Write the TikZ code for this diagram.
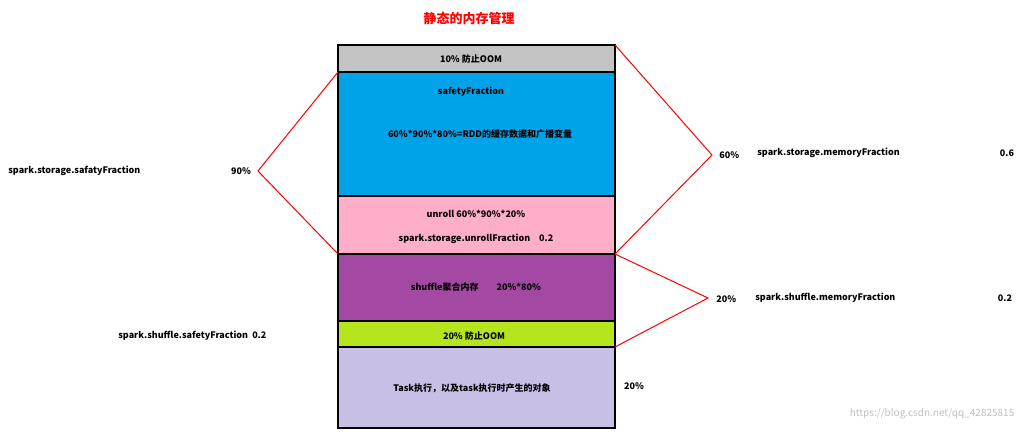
\documentclass[tikz,border=0pt]{standalone}
\usepackage{fontspec}
\setmainfont{Noto Sans CJK SC}
\usepackage{tikz}
\tikzset{every picture/.style={line width=0.75pt}}
\definecolor{oomgray}{RGB}{195,195,195}
\definecolor{safeblue}{RGB}{0,162,232}
\definecolor{unrollpink}{RGB}{255,174,201}
\definecolor{shufpurple}{RGB}{163,73,164}
\definecolor{oomgreen}{RGB}{181,230,29}
\definecolor{tasklav}{RGB}{200,191,231}
\tikzset{
  memblock/.style={draw=black, line width=2pt},
  lbl/.style={font=\bfseries\fontsize{9}{11}\selectfont, inner sep=0pt},
  bracket/.style={draw=red, line width=1pt}
}
\begin{document}
\begin{tikzpicture}[x=1pt,y=1pt,yscale=-1,xscale=1]
\useasboundingbox (0,0) rectangle (1025,434);
% title
\node (title) [text=red, font=\bfseries\fontsize{13}{15}\selectfont] at (469,18) {静态的内存管理};

% memory blocks
\draw [memblock, fill=oomgray] (338,45) rectangle (615,72);
\draw [memblock, fill=safeblue] (338,72) rectangle (615,196);
\draw [memblock, fill=unrollpink] (338,196) rectangle (615,254);
\draw [memblock, fill=shufpurple] (338,254) rectangle (615,321);
\draw [memblock, fill=oomgreen] (338,321) rectangle (615,347);
\draw [memblock, fill=tasklav] (338,347) rectangle (615,428);

% block texts
\node (oomtop) [lbl] at (471,59) {10\% 防止OOM};
\node (safety) [lbl] at (471,92) {safetyFraction};
\node (rdd) [lbl] at (480,134) {60\%*90\%*80\%=RDD的缓存数据和广播变量};
\node (unroll) [lbl] at (476,214) {unroll 60\%*90\%*20\%};
\node (unrollfr) [lbl] at (476,239) {spark.storage.unrollFraction\quad 0.2};
\node (shuffle) [lbl] at (476,287) {shuffle聚合内存\qquad 20\%*80\%};
\node (oombot) [lbl] at (474,336) {20\% 防止OOM};
\node (task) [lbl] at (472,388) {Task执行，以及task执行时产生的对象};

% brackets
\coordinate (lt) at (338,72);
\coordinate (lm) at (258,171);
\coordinate (lb) at (338,254);
\draw [bracket] (lt) -- (lm) -- (lb);
\coordinate (rt) at (615,45);
\coordinate (rm) at (712,155);
\coordinate (rb) at (615,254);
\draw [bracket] (rt) -- (rm) -- (rb);
\coordinate (st) at (615,254);
\coordinate (sm) at (708,298);
\coordinate (sb) at (615,347);
\draw [bracket] (st) -- (sm) -- (sb);

% side labels
\node (safatyfr) [lbl, anchor=west] at (8,171) {spark.storage.safatyFraction};
\node (ninety) [lbl] at (241,171) {90\%};
\node (sixty) [lbl, anchor=west] at (719,155) {60\%};
\node (memfr) [lbl, anchor=west] at (757,153) {spark.storage.memoryFraction};
\node (sixval) [lbl] at (1007,153) {0.6};
\node (twenty) [lbl, anchor=west] at (716,299) {20\%};
\node (shufmem) [lbl, anchor=west] at (755,298) {spark.shuffle.memoryFraction};
\node (twoval) [lbl] at (1005,298) {0.2};
\node (shufsafe) [lbl, anchor=west] at (118,336) {spark.shuffle.safetyFraction\ \ 0.2};
\node (taskpct) [lbl] at (634,386) {20\%};

% watermark
\node (mark) [text=black!25, font=\fontsize{10}{12}\selectfont, anchor=east] at (1018,414) {https://blog.csdn.net/qq\_42825815};
\end{tikzpicture}
\end{document}
